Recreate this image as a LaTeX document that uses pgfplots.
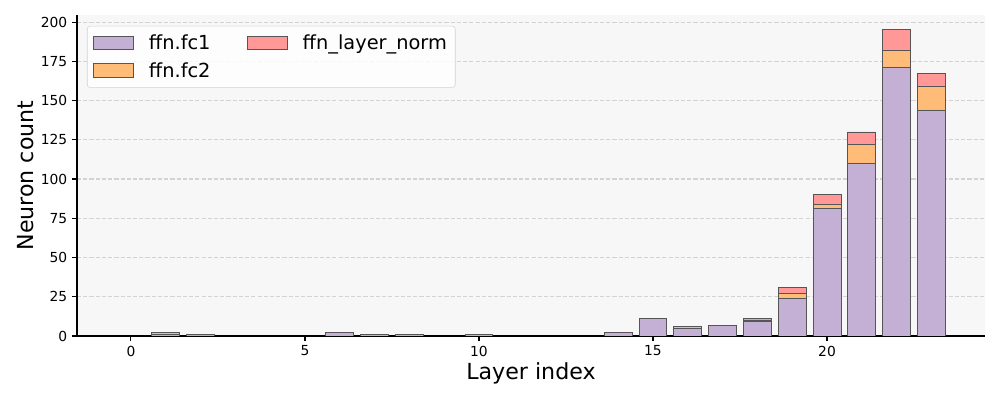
\documentclass[border=0pt]{standalone}
\usepackage{fontspec}
\setmainfont{DejaVu Sans}
\usepackage{pgfplots}
\pgfplotsset{compat=1.18}

\definecolor{fcone}{HTML}{C5B0D5}
\definecolor{fctwo}{HTML}{FFBB78}
\definecolor{lnorm}{HTML}{FF9896}
\definecolor{edge}{HTML}{555555}
\definecolor{bg}{HTML}{F7F7F7}
\definecolor{gridc}{HTML}{D3D3D3}

\begin{document}
\begin{tikzpicture}
\begin{axis}[
    name=ax,
    scale only axis,
    width=9.08in, height=3.21in,
    ybar stacked,
    bar width=0.8,
    xmin=-1.55, xmax=24.54,
    ymin=0, ymax=204.5,
    xtick={0,5,10,15,20},
    ytick={0,25,...,200},
    axis x line*=bottom,
    axis y line*=left,
    tick align=outside,
    major tick length=3.5pt,
    tick style={black, line width=0.8pt},
    axis line style={line width=0.8pt},
    ymajorgrids,
    grid style={gridc, dash pattern=on 3pt off 1.5pt, line width=0.8pt},
    axis background/.style={fill=bg},
    /pgf/number format/assume math mode=true,
    ticklabel style={font=\fontsize{10}{12}\selectfont},
    xlabel={Layer index},
    ylabel={Neuron count},
    label style={font=\fontsize{16}{19}\selectfont},
    xlabel style={yshift=2pt},
    ylabel style={yshift=-2pt},
    every axis plot/.append style={draw=edge, line width=0.6pt},
    legend columns=2,
    legend cell align=left,
    legend image code/.code={\draw[#1, sharp corners, fill opacity=1, draw opacity=1] (0pt,-5pt) rectangle (29pt,5pt);},
    legend style={
        at={(0.011,0.966)}, anchor=north west,
        draw=gridc, rounded corners=2pt, fill=white, fill opacity=0.8, text opacity=1,
        font=\fontsize{14}{17}\selectfont,
        row sep=4pt,
        /tikz/every odd column/.append style={column sep=9pt},
        /tikz/every even column/.append style={column sep=24pt},
        inner xsep=4pt, inner ysep=4pt,
    },
]
\addlegendimage{fill=fcone, draw=edge}
\addlegendentry{ffn.fc1}
\addlegendimage{fill=lnorm, draw=edge}
\addlegendentry{ffn\_layer\_norm}
\addlegendimage{fill=fctwo, draw=edge}
\addlegendentry{ffn.fc2}

% ffn.fc1
\addplot[fill=fcone, forget plot] coordinates {
    (1,1) (2,0) (6,2) (7,1) (8,1) (10,1) (14,2) (15,11) (16,5) (17,7)
    (18,9) (19,24) (20,81) (21,110) (22,171) (23,144)
};
% ffn.fc2
\addplot[fill=fctwo, forget plot] coordinates {
    (1,1) (2,0) (6,0) (7,0) (8,0) (10,0) (14,0) (15,0) (16,1) (17,0)
    (18,1) (19,3) (20,3) (21,12) (22,11) (23,15)
};
% ffn_layer_norm
\addplot[fill=lnorm, forget plot] coordinates {
    (1,0) (2,1) (6,0) (7,0) (8,0) (10,0) (14,0) (15,0) (16,0) (17,0)
    (18,1) (19,4) (20,6) (21,8) (22,13) (23,8)
};
\end{axis}
\path (ax.south west) ++(-0.77in,-0.64in) rectangle ++(10in,4in);
\end{tikzpicture}
\end{document}
